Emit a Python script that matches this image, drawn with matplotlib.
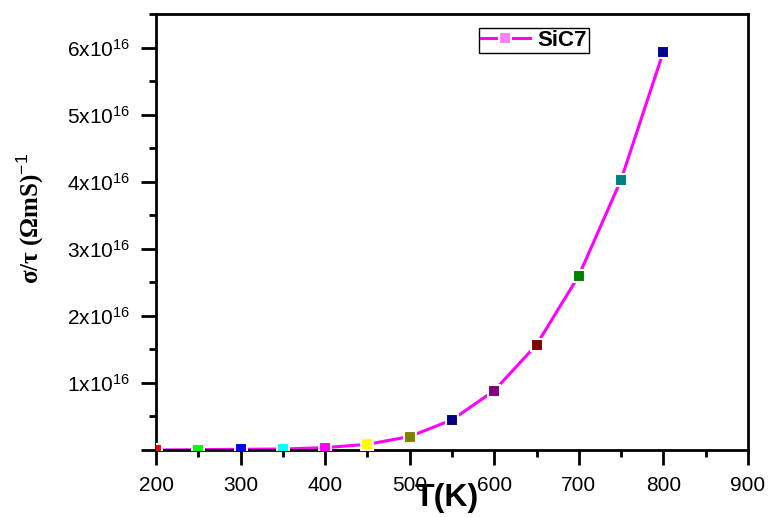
import matplotlib
matplotlib.use("Agg")
import matplotlib.pyplot as plt
from matplotlib.ticker import MultipleLocator, FuncFormatter
from matplotlib.lines import Line2D

plt.rcParams['font.family'] = ['Liberation Sans', 'DejaVu Sans']
plt.rcParams['mathtext.fontset'] = 'custom'
plt.rcParams['mathtext.rm'] = 'Liberation Sans'
plt.rcParams['mathtext.it'] = 'Liberation Sans:italic'
plt.rcParams['mathtext.bf'] = 'Liberation Sans:bold'

# data
temp = [200, 250, 300, 350, 400, 450, 500, 550, 600, 650, 700, 750, 800]
sigma_tau = [0.0, 0.005e16, 0.01e16, 0.015e16, 0.035e16, 0.085e16, 0.20e16,
             0.45e16, 0.885e16, 1.57e16, 2.6e16, 4.03e16, 5.94e16]
marker_colors = ['#FF0000', '#00FF00', '#0000FF', '#00FFFF', '#FF00FF', '#FFFF00',
                 '#808000', '#000080', '#800080', '#800000', '#008000', '#008080',
                 '#000090']

fig = plt.figure(figsize=(7.7, 5.17), dpi=100)
ax = fig.add_axes([0.2026, 0.1296, 0.7688, 0.8433])

ax.plot(temp, sigma_tau, color='#FF00FF', lw=2.2, zorder=2)
for t, s, c in zip(temp, sigma_tau, marker_colors):
    ax.plot(t, s, 's', ms=8, mfc=c, mec='white', mew=1.5, zorder=3)

ax.set_xlim(200, 900)
ax.set_ylim(0, 6.5e16)
ax.xaxis.set_major_locator(MultipleLocator(100))
ax.xaxis.set_minor_locator(MultipleLocator(50))
ax.yaxis.set_major_locator(MultipleLocator(1e16))
ax.yaxis.set_minor_locator(MultipleLocator(0.5e16))
ax.yaxis.set_major_formatter(FuncFormatter(
    lambda v, p: '' if abs(v) < 1e14 else f'{int(round(v / 1e16))}x10$^{{16}}$'))

for sp in ax.spines.values():
    sp.set_linewidth(2)
ax.tick_params(which='major', direction='out', length=11, width=2, labelsize=15, pad=8)
ax.tick_params(which='minor', direction='out', length=5, width=2)

ax.set_xlabel('T(K)', fontsize=23, fontweight='bold')
ax.xaxis.set_label_coords(0.4916, -0.075)
ax.set_ylabel(r'σ/τ (ΩmS)$^{-1}$', fontsize=18, fontweight='bold',
              family=['Liberation Serif', 'DejaVu Serif'])
ax.yaxis.set_label_coords(-0.186, 0.53)

handle = Line2D([], [], color='#FF00FF', lw=2.2, marker='s',
                ms=8, mfc='#FF80FF', mec='white', mew=1.5)
leg = ax.legend([handle], ['SiC7'], loc='upper left', bbox_to_anchor=(0.5456, 0.968),
                borderaxespad=0, fancybox=False, framealpha=1, edgecolor='black',
                handlelength=2.2, handletextpad=0.35, borderpad=0.08,
                prop={'weight': 'bold', 'size': 16})
leg.get_frame().set_linewidth(1)

fig.savefig('out.png', dpi=100)
